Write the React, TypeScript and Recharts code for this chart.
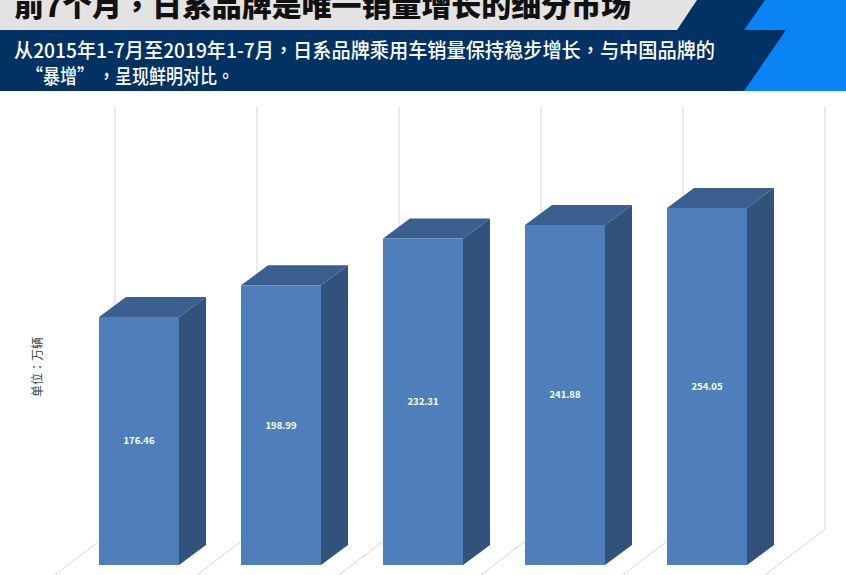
import React from "react";
import { BarChart, Bar, XAxis, YAxis, LabelList, Label } from "recharts";

const categories = ["2015年1-7月", "2016年1-7月", "2017年1-7月", "2018年1-7月", "2019年1-7月"];
const sales = [176.46, 198.99, 232.31, 241.88, 254.05];
const rows = categories.map((name, i) => ({ name, sales: sales[i] }));

const titleText = "前7个月，日系品牌是唯一销量增长的细分市场";
const subLine1 = "从2015年1-7月至2019年1-7月，日系品牌乘用车销量保持稳步增长，与中国品牌的";
const subLine2 = "“暴增” ，呈现鲜明对比。";
const unitText = "单位：万辆";

const FONT = '"Noto Sans CJK TC", "Noto Sans CJK SC", "Noto Sans", sans-serif';
const DX = 27;
const DY = 20;

function Bar3D(props: any) {
  const { x, y, width, height, index } = props;
  const bottom = y + height;
  const right = x + width;
  const gx = x + 16;
  const wallTop = bottom - 458;
  const wallBottom = bottom - 36;
  const floorX = gx - 60;
  const floorY = wallBottom + 46;
  const grid = "#D6D6D6";
  const nextX = x + 16 + 142;
  return (
    <g>
      <polyline points={`${gx},${wallTop} ${gx},${wallBottom} ${floorX},${floorY}`} fill="none" stroke={grid} strokeWidth={1} />
      {index === sales.length - 1 && (
        <polyline points={`${nextX},${wallTop} ${nextX},${wallBottom} ${nextX - 60},${floorY}`} fill="none" stroke={grid} strokeWidth={1} />
      )}
      <polygon points={`${x},${y} ${x + DX},${y - DY} ${right + DX},${y - DY} ${right},${y}`} fill="#3A5F8E" />
      <polygon points={`${right},${y} ${right + DX},${y - DY} ${right + DX},${bottom - DY} ${right},${bottom}`} fill="#31527B" />
      <rect x={x} y={y} width={width} height={height} fill="#4F7FBB" />
    </g>
  );
}

function Header() {
  return (
    <svg width={846} height={91} style={{ position: "absolute", left: 0, top: 0 }}>
      <rect x={0} y={0} width={846} height={91} fill="#023263" />
      <polygon points="0,0 697,0 677,30 0,30" fill="#E3E3E3" />
      <polygon points="765,0 846,0 846,91 744,91 786,30 744,30" fill="#0A84F5" />
      <text x={14} y={17} fontFamily={FONT} fontWeight={900} fontSize={29} fill="#111" textLength={617} lengthAdjust="spacingAndGlyphs">{titleText}</text>
      <text x={14} y={58} fontFamily={FONT} fontWeight={500} fontSize={20} fill="#fff" textLength={701} lengthAdjust="spacingAndGlyphs">{subLine1}</text>
      <text x={26} y={84} fontFamily={FONT} fontWeight={500} fontSize={20} fill="#fff" textLength={208} lengthAdjust="spacingAndGlyphs">{subLine2}</text>
    </svg>
  );
}

export default function App() {
  return (
    <div style={{ position: "absolute", left: 0, top: 0, width: 846, height: 575, background: "#fff", overflow: "hidden" }}>
      <Header />
      <div style={{ position: "absolute", left: 0, top: 0 }}>
        <BarChart width={846} height={575} data={rows} margin={{ top: 73, right: 68, bottom: 10, left: 0 }} barCategoryGap={31}>
          <XAxis dataKey="name" hide />
          <YAxis
            width={68}
            domain={[0, 350]}
            tick={false}
            axisLine={false}
            tickLine={false}
          >
            <Label value={unitText} angle={-90} position="insideLeft" dx={33} dy={78} fontSize={12} fontFamily={FONT} fill="#444" />
          </YAxis>
          <Bar dataKey="sales" isAnimationActive={false} shape={<Bar3D />}>
            <LabelList dataKey="sales" position="center" fill="#fff" fontSize={9.5} fontWeight={700} fontFamily={FONT} />
          </Bar>
        </BarChart>
      </div>
    </div>
  );
}
